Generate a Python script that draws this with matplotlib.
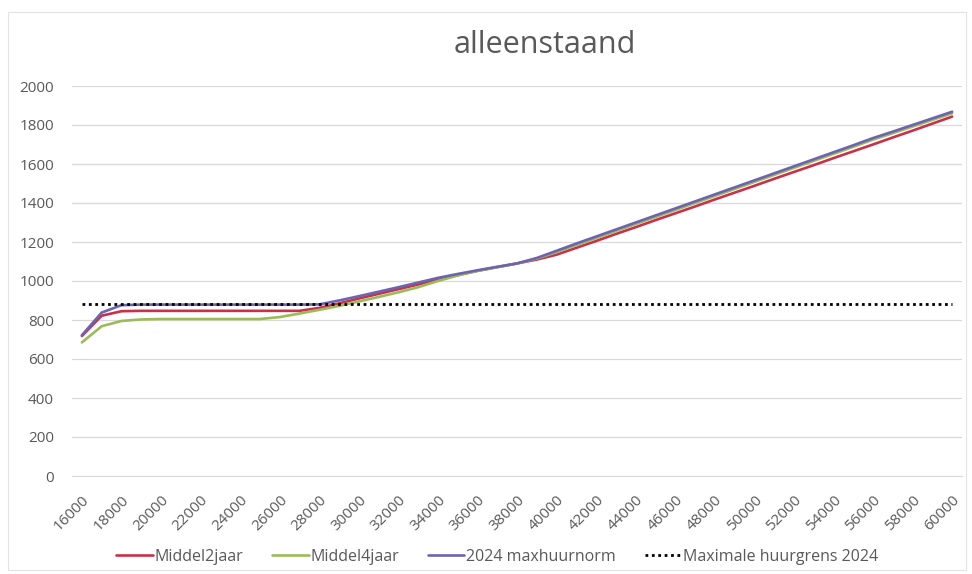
import matplotlib
matplotlib.use("Agg")
import matplotlib.pyplot as plt
from matplotlib.patches import Rectangle

income = list(range(16000, 61000, 1000))

middel2jaar = [718, 822, 845, 847, 847, 847, 847, 847, 847, 847, 847, 847, 862, 885, 910,
               934, 958, 982, 1008, 1030, 1052, 1071, 1090, 1110, 1135, 1170, 1205, 1241,
               1276, 1312, 1347, 1382, 1418, 1453, 1488, 1524, 1559, 1594, 1630, 1665,
               1700, 1736, 1771, 1807, 1843]

middel4jaar = [685, 768, 795, 803, 805, 805, 805, 805, 805, 805, 815, 833, 852, 872, 895,
               918, 942, 968, 1000, 1028, 1052, 1071, 1090, 1115, 1148, 1184, 1220, 1256,
               1292, 1328, 1364, 1400, 1436, 1472, 1508, 1544, 1580, 1616, 1652, 1688,
               1725, 1758, 1792, 1826, 1860]

maxhuurnorm_2024 = [722, 838, 876, 879, 879, 879, 879, 879, 879, 879, 879, 879, 880, 900, 922,
                    945, 968, 992, 1016, 1036, 1055, 1073, 1090, 1118, 1155, 1192, 1228, 1264,
                    1300, 1336, 1372, 1408, 1444, 1480, 1516, 1552, 1588, 1624, 1660, 1696,
                    1733, 1766, 1800, 1834, 1868]

huurgrens_2024 = [880] * len(income)

series_names = ["Middel2jaar", "Middel4jaar", "2024 maxhuurnorm", "Maximale huurgrens 2024"]
title = "alleenstaand"
y_ticks = [0, 200, 400, 600, 800, 1000, 1200, 1400, 1600, 1800, 2000]

FONT = ["Open Sans", "DejaVu Sans"]
plt.rcParams["font.family"] = FONT
TXT = "#595959"

fig = plt.figure(figsize=(9.72, 5.74), dpi=100)
ax = fig.add_axes([72 / 972, 1 - 476 / 574, (962 - 72) / 972, (476 - 86) / 574])

xs = list(range(len(income)))
ax.plot(xs, middel2jaar, color="#C9304A", lw=1.9, label=series_names[0], solid_capstyle="round")
ax.plot(xs, middel4jaar, color="#9BBB59", lw=1.9, label=series_names[1], solid_capstyle="round")
ax.plot(xs, maxhuurnorm_2024, color="#6D64B0", lw=1.9, label=series_names[2], solid_capstyle="round")
ax.plot(xs, huurgrens_2024, color="black", lw=2.0, linestyle=(0, (1, 1.3)), label=series_names[3])

ax.set_xlim(-0.5, len(income) - 0.5)
ax.set_ylim(0, 2000)
ax.set_yticks(y_ticks)
ax.set_yticklabels([str(v) for v in y_ticks], color=TXT, fontsize=11)
ax.grid(axis="y", color="#D9D9D9", lw=0.9)
ax.set_axisbelow(True)
ax.set_xticks(xs[::2])
ax.set_xticklabels([str(v) for v in income[::2]], rotation=45, ha="right", va="top",
                   rotation_mode="anchor", color=TXT, fontsize=11)
ax.tick_params(axis="y", length=0, pad=13)
ax.tick_params(axis="x", length=0, pad=12)
for s in ["top", "right", "left"]:
    ax.spines[s].set_visible(False)
ax.spines["bottom"].set_color("#D9D9D9")

fig.text(545 / 972, 1 - 45 / 574, title, ha="center", va="center", fontsize=22, color=TXT)

fig.legend(loc="center", bbox_to_anchor=(497 / 972, 1 - 557 / 574), ncol=4, frameon=False,
           fontsize=11.5, labelcolor=TXT, handlelength=2.3, handletextpad=0.1, columnspacing=1.8)

fig.patches.append(Rectangle((8 / 972, 4 / 574), 958 / 972, 558 / 574, transform=fig.transFigure,
                             fill=False, edgecolor="#E3E3E3", lw=0.8))

fig.savefig("out.png", dpi=100)
